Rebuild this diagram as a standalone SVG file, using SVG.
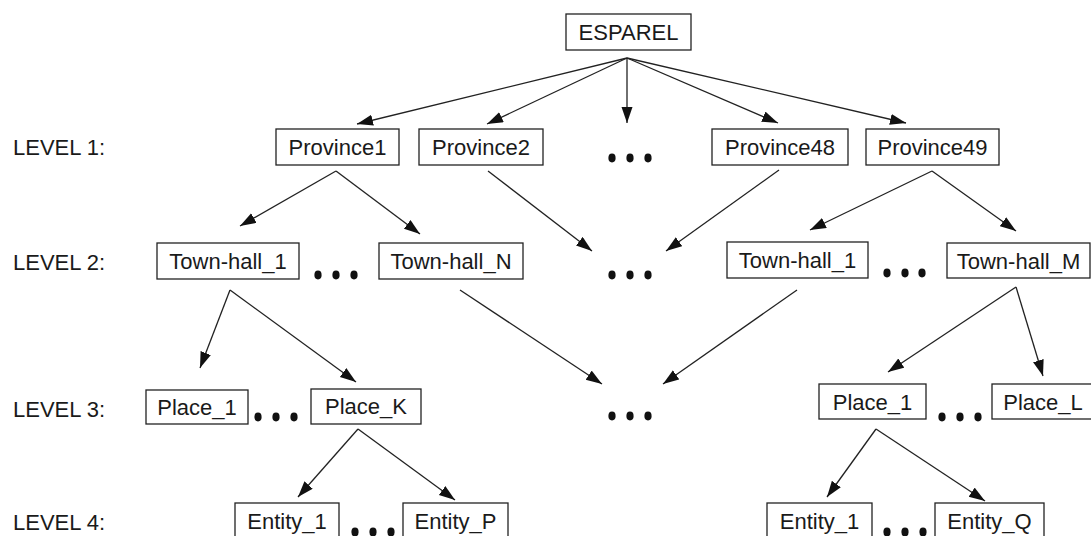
<svg xmlns="http://www.w3.org/2000/svg" width="1091" height="536" viewBox="0 0 1091 536">
<style>
.box{fill:#fff;stroke:#222;stroke-width:1.3}
.t{font-family:"Liberation Sans",Arial,sans-serif;font-size:22px;fill:#1a1a1a;text-anchor:middle}
.lv{font-family:"Liberation Sans",Arial,sans-serif;font-size:22px;fill:#1a1a1a}
.c line{stroke:#222;stroke-width:1.3;marker-end:url(#ah)}
.d{fill:#111}
</style>
<defs>
<marker id="ah" markerUnits="userSpaceOnUse" markerWidth="17" markerHeight="12" refX="16" refY="5.5" orient="auto">
<path d="M0,0 L16,5.5 L0,11 z" fill="#111"/>
</marker>
</defs>
<rect width="1091" height="536" fill="#fff"/>
<g id="levels">
<text class="lv" x="13" y="155">LEVEL 1:</text>
<text class="lv" x="13" y="270">LEVEL 2:</text>
<text class="lv" x="13" y="417">LEVEL 3:</text>
<text class="lv" x="13" y="530">LEVEL 4:</text>
</g>
<g class="c" id="connectors">
<line x1="627" y1="58" x2="357" y2="124"/>
<line x1="627" y1="58" x2="487" y2="124"/>
<line x1="627" y1="58" x2="627" y2="123"/>
<line x1="627" y1="58" x2="778" y2="123"/>
<line x1="627" y1="58" x2="906" y2="123"/>
<line x1="336" y1="171" x2="240" y2="226"/>
<line x1="336" y1="171" x2="420" y2="234"/>
<line x1="488" y1="171" x2="592" y2="251"/>
<line x1="779" y1="170" x2="666" y2="251"/>
<line x1="932" y1="171" x2="810" y2="230"/>
<line x1="932" y1="171" x2="1016" y2="231"/>
<line x1="230" y1="290" x2="200" y2="368"/>
<line x1="230" y1="290" x2="356" y2="382"/>
<line x1="460" y1="290" x2="602" y2="384"/>
<line x1="797" y1="290" x2="663" y2="384"/>
<line x1="1016" y1="287" x2="888" y2="372"/>
<line x1="1016" y1="287" x2="1043" y2="376"/>
<line x1="358" y1="429" x2="298" y2="497"/>
<line x1="358" y1="429" x2="455" y2="500"/>
<line x1="876" y1="429" x2="827" y2="497"/>
<line x1="876" y1="429" x2="985" y2="501"/>
</g>
<g id="esparel"><rect class="box" x="566" y="14" width="125" height="36"/><text class="t" x="628.5" y="40">ESPAREL</text></g>
<g id="province1"><rect class="box" x="276" y="129" width="123" height="36"/><text class="t" x="337.5" y="155">Province1</text></g>
<g id="province2"><rect class="box" x="419" y="129" width="124" height="36"/><text class="t" x="481" y="155">Province2</text></g>
<g id="province48"><rect class="box" x="712" y="129" width="136" height="36"/><text class="t" x="780" y="155">Province48</text></g>
<g id="province49"><rect class="box" x="866" y="129" width="133" height="36"/><text class="t" x="932.5" y="155">Province49</text></g>
<g id="townhall1a"><rect class="box" x="157" y="243" width="142" height="36"/><text class="t" x="228" y="269">Town-hall_1</text></g>
<g id="townhallN"><rect class="box" x="379" y="243" width="144" height="36"/><text class="t" x="451" y="269">Town-hall_N</text></g>
<g id="townhall1b"><rect class="box" x="727" y="242" width="141" height="36"/><text class="t" x="797.5" y="268">Town-hall_1</text></g>
<g id="townhallM"><rect class="box" x="947" y="243" width="143" height="35"/><text class="t" x="1018.5" y="269">Town-hall_M</text></g>
<g id="place1a"><rect class="box" x="146" y="390" width="102" height="34"/><text class="t" x="197" y="415">Place_1</text></g>
<g id="placeK"><rect class="box" x="311" y="389" width="110" height="35"/><text class="t" x="366" y="414">Place_K</text></g>
<g id="place1b"><rect class="box" x="819" y="384" width="107" height="35"/><text class="t" x="872.5" y="410">Place_1</text></g>
<g id="placeL"><rect class="box" x="992" y="384" width="104" height="35"/><text class="t" x="1043" y="410">Place_L</text></g>
<g id="entity1a"><rect class="box" x="235" y="503" width="104" height="40"/><text class="t" x="287" y="529">Entity_1</text></g>
<g id="entityP"><rect class="box" x="403" y="503" width="105" height="40"/><text class="t" x="455.5" y="529">Entity_P</text></g>
<g id="entity1b"><rect class="box" x="767" y="503" width="105" height="40"/><text class="t" x="819.5" y="529">Entity_1</text></g>
<g id="entityQ"><rect class="box" x="935" y="503" width="109" height="40"/><text class="t" x="989.5" y="529">Entity_Q</text></g>
<g id="ellipses">
<g class="d">
<ellipse cx="612" cy="158" rx="3.6" ry="4.4"/><ellipse cx="630" cy="158" rx="3.6" ry="4.4"/><ellipse cx="648" cy="158" rx="3.6" ry="4.4"/>
<ellipse cx="318" cy="275" rx="3.6" ry="4.4"/><ellipse cx="336" cy="275" rx="3.6" ry="4.4"/><ellipse cx="354" cy="275" rx="3.6" ry="4.4"/>
<ellipse cx="612" cy="275" rx="3.6" ry="4.4"/><ellipse cx="630" cy="275" rx="3.6" ry="4.4"/><ellipse cx="648" cy="275" rx="3.6" ry="4.4"/>
<ellipse cx="887" cy="273" rx="3.6" ry="4.4"/><ellipse cx="905" cy="273" rx="3.6" ry="4.4"/><ellipse cx="922" cy="273" rx="3.6" ry="4.4"/>
<ellipse cx="258" cy="417" rx="3.6" ry="4.4"/><ellipse cx="276" cy="417" rx="3.6" ry="4.4"/><ellipse cx="294" cy="417" rx="3.6" ry="4.4"/>
<ellipse cx="612" cy="416" rx="3.6" ry="4.4"/><ellipse cx="630" cy="416" rx="3.6" ry="4.4"/><ellipse cx="648" cy="416" rx="3.6" ry="4.4"/>
<ellipse cx="942" cy="417" rx="3.6" ry="4.4"/><ellipse cx="960" cy="417" rx="3.6" ry="4.4"/><ellipse cx="978" cy="417" rx="3.6" ry="4.4"/>
<ellipse cx="355" cy="532" rx="3.6" ry="4.4"/><ellipse cx="373" cy="532" rx="3.6" ry="4.4"/><ellipse cx="391" cy="532" rx="3.6" ry="4.4"/>
<ellipse cx="887" cy="532" rx="3.6" ry="4.4"/><ellipse cx="905" cy="532" rx="3.6" ry="4.4"/><ellipse cx="923" cy="532" rx="3.6" ry="4.4"/>
</g>
</g>
</svg>
